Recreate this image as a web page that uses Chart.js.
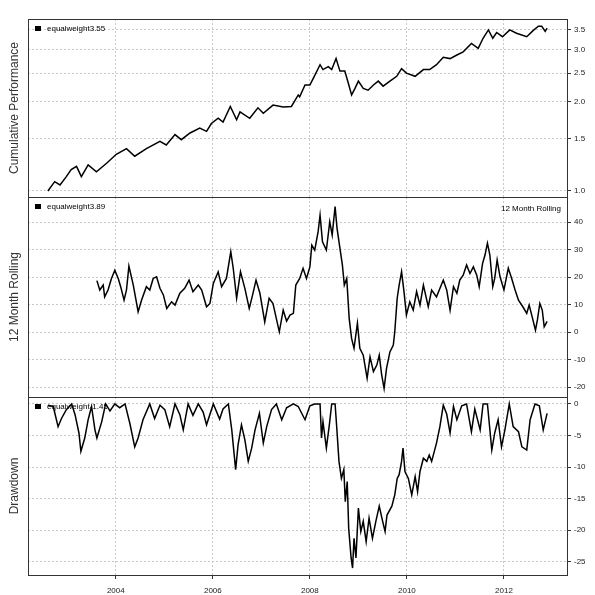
<!DOCTYPE html>
<html>
<head>
<meta charset="utf-8">
<script src="https://cdn.jsdelivr.net/npm/chart.js@4.4.1/dist/chart.umd.min.js"></script>
<style>
  html, body { margin: 0; padding: 0; background: #fff; }
  #wrap { position: relative; width: 595px; height: 595px; overflow: hidden; }
  canvas { position: absolute; left: 0; }
</style>
</head>
<body>
<div id="wrap">
  <canvas id="cum" width="595" height="201" style="top:0px"></canvas>
  <canvas id="roll" width="595" height="208" style="top:193px"></canvas>
  <canvas id="dd" width="595" height="202" style="top:393px"></canvas>
</div>
<script>
const FONT = "'Liberation Sans', Arial, sans-serif";

// x axis
const xMin = 2002.19;
const xMax = 2013.30;
const yearTicks = [2004, 2006, 2008, 2010, 2012];

// cumulative performance (log scale)
const cumDates = [2002.60, 2002.74, 2002.85, 2002.98, 2003.08, 2003.19, 2003.29, 2003.43, 2003.60, 2003.81,
  2004.01, 2004.22, 2004.39, 2004.63, 2004.91, 2005.04, 2005.22, 2005.35, 2005.53, 2005.73,
  2005.87, 2005.97, 2006.11, 2006.21, 2006.36, 2006.49, 2006.56, 2006.76, 2006.93, 2007.04,
  2007.24, 2007.45, 2007.62, 2007.76, 2007.79, 2007.90, 2008.00, 2008.07, 2008.21, 2008.27,
  2008.38, 2008.45, 2008.54, 2008.62, 2008.72, 2008.79, 2008.86, 2008.93, 2009.00, 2009.10,
  2009.20, 2009.31, 2009.41, 2009.51, 2009.65, 2009.79, 2009.89, 2009.99, 2010.17, 2010.34,
  2010.47, 2010.61, 2010.75, 2010.89, 2011.03, 2011.16, 2011.33, 2011.47, 2011.57, 2011.68,
  2011.77, 2011.85, 2011.97, 2012.12, 2012.26, 2012.47, 2012.60, 2012.71, 2012.78, 2012.85, 2012.89];
const cumValues = [1.00, 1.075, 1.048, 1.118, 1.18, 1.21, 1.118, 1.224, 1.16, 1.24,
  1.33, 1.39, 1.31, 1.39, 1.47, 1.43, 1.55, 1.49, 1.57, 1.63,
  1.59, 1.69, 1.76, 1.71, 1.93, 1.74, 1.85, 1.76, 1.91, 1.83,
  1.95, 1.92, 1.93, 2.11, 2.08, 2.28, 2.28, 2.40, 2.67, 2.57,
  2.63, 2.57, 2.80, 2.54, 2.54, 2.32, 2.11, 2.22, 2.35, 2.22,
  2.19, 2.28, 2.35, 2.26, 2.35, 2.44, 2.59, 2.50, 2.44, 2.57,
  2.57, 2.67, 2.83, 2.80, 2.88, 2.95, 3.15, 3.03, 3.28, 3.50,
  3.28, 3.43, 3.32, 3.50, 3.41, 3.32, 3.48, 3.60, 3.60, 3.46, 3.55];
const cumTicks = [1.0, 1.5, 2.0, 2.5, 3.0, 3.5];

// 12 month rolling return (%)
const rollDates = [2003.61, 2003.67, 2003.74, 2003.77, 2003.84, 2003.91, 2003.98, 2004.05, 2004.10, 2004.17,
  2004.22, 2004.27, 2004.36, 2004.46, 2004.53, 2004.63, 2004.70, 2004.77, 2004.84, 2004.91,
  2004.98, 2005.05, 2005.15, 2005.22, 2005.32, 2005.42, 2005.51, 2005.59, 2005.70, 2005.77,
  2005.87, 2005.94, 2006.01, 2006.11, 2006.18, 2006.28, 2006.37, 2006.42, 2006.49, 2006.57,
  2006.66, 2006.75, 2006.81, 2006.89, 2006.97, 2007.07, 2007.16, 2007.24, 2007.37, 2007.45,
  2007.52, 2007.59, 2007.66, 2007.71, 2007.79, 2007.86, 2007.93, 2008.00, 2008.04, 2008.10,
  2008.17, 2008.21, 2008.26, 2008.34, 2008.41, 2008.46, 2008.52, 2008.56, 2008.62, 2008.67,
  2008.71, 2008.76, 2008.81, 2008.86, 2008.91, 2008.98, 2009.03, 2009.10, 2009.18, 2009.24,
  2009.31, 2009.38, 2009.43, 2009.48, 2009.53, 2009.58, 2009.65, 2009.72, 2009.75, 2009.80,
  2009.84, 2009.89, 2009.94, 2009.99, 2010.06, 2010.13, 2010.20, 2010.27, 2010.34, 2010.44,
  2010.51, 2010.61, 2010.75, 2010.82, 2010.89, 2010.96, 2011.03, 2011.09, 2011.16, 2011.23,
  2011.30, 2011.37, 2011.44, 2011.49, 2011.56, 2011.61, 2011.66, 2011.71, 2011.77, 2011.81,
  2011.86, 2011.92, 2012.00, 2012.09, 2012.16, 2012.23, 2012.30, 2012.39, 2012.47, 2012.52,
  2012.59, 2012.65, 2012.69, 2012.74, 2012.79, 2012.83, 2012.89];
const rollValues = [18.7, 15.3, 17.1, 12.8, 15.3, 19.5, 22.5, 19.5, 16.5, 11.6,
  15.3, 24.0, 17.1, 7.4, 11.6, 16.5, 15.3, 19.5, 20.1, 15.9,
  13.5, 8.6, 11.0, 9.8, 14.1, 15.9, 18.9, 14.7, 17.1, 15.3,
  9.2, 10.4, 17.7, 21.9, 16.5, 19.5, 29.2, 23.2, 12.3, 21.9,
  15.9, 8.6, 12.8, 18.9, 14.1, 3.7, 12.3, 10.4, 0.1, 8.0,
  4.0, 6.2, 6.8, 17.1, 19.5, 23.2, 19.5, 23.7, 31.6, 29.8,
  36.5, 42.5, 32.8, 29.8, 40.1, 35.3, 45.6, 37.7, 30.4, 24.4,
  17.1, 19.5, 5.0, -2.3, -5.9, 3.2, -5.9, -8.4, -16.8, -9.0,
  -14.4, -12.0, -8.4, -15.6, -20.5, -13.2, -7.2, -4.7, 0.1, 12.3,
  17.1, 21.9, 14.7, 6.2, 11.0, 8.0, 14.7, 9.8, 17.1, 9.2,
  15.3, 12.8, 18.9, 15.3, 8.0, 16.5, 14.1, 18.9, 20.7, 24.4,
  21.3, 23.7, 20.7, 16.5, 25.0, 28.0, 32.3, 28.0, 16.5, 19.5,
  26.2, 20.1, 15.3, 23.2, 19.5, 15.3, 11.6, 9.2, 6.8, 9.8,
  5.0, 0.7, 4.4, 10.4, 8.0, 1.9, 3.9];
const rollTicks = [-20, -10, 0, 10, 20, 30, 40];

// drawdown (%)
const ddDates = [2002.60, 2002.71, 2002.81, 2002.88, 2002.98, 2003.09, 2003.16, 2003.24, 2003.28, 2003.36,
  2003.43, 2003.50, 2003.57, 2003.61, 2003.71, 2003.79, 2003.88, 2003.98, 2004.08, 2004.19,
  2004.29, 2004.39, 2004.46, 2004.56, 2004.70, 2004.80, 2004.91, 2005.01, 2005.11, 2005.22,
  2005.32, 2005.39, 2005.49, 2005.59, 2005.70, 2005.80, 2005.87, 2006.01, 2006.14, 2006.21,
  2006.32, 2006.39, 2006.47, 2006.52, 2006.59, 2006.66, 2006.73, 2006.80, 2006.87, 2006.96,
  2007.04, 2007.11, 2007.21, 2007.31, 2007.42, 2007.52, 2007.66, 2007.76, 2007.90, 2008.00,
  2008.10, 2008.21, 2008.24, 2008.27, 2008.34, 2008.40, 2008.45, 2008.52, 2008.55, 2008.60,
  2008.65, 2008.70, 2008.73, 2008.77, 2008.80, 2008.85, 2008.88, 2008.91, 2008.95, 2009.00,
  2009.05, 2009.10, 2009.16, 2009.22, 2009.29, 2009.36, 2009.43, 2009.50, 2009.55, 2009.59,
  2009.69, 2009.75, 2009.80, 2009.84, 2009.89, 2009.92, 2009.96, 2010.03, 2010.10, 2010.17,
  2010.22, 2010.27, 2010.34, 2010.41, 2010.46, 2010.51, 2010.61, 2010.68, 2010.75, 2010.82,
  2010.89, 2010.96, 2011.03, 2011.13, 2011.23, 2011.33, 2011.40, 2011.51, 2011.57, 2011.66,
  2011.75, 2011.81, 2011.88, 2011.95, 2012.02, 2012.11, 2012.19, 2012.30, 2012.37, 2012.47,
  2012.54, 2012.64, 2012.73, 2012.81, 2012.89];
const ddValues = [-0.2, -0.4, -3.6, -2.3, -0.9, 0, -1.7, -4.6, -7.5, -5.4,
  -2.5, -0.4, -4.1, -5.4, -2.8, 0, -1.1, 0, -0.6, 0,
  -3.1, -6.8, -5.4, -2.5, 0, -2.3, -0.2, -0.9, -3.6, 0,
  -1.7, -4.1, 0, -1.8, 0, -1.3, -3.3, 0, -2.4, -0.8,
  0, -4.1, -10.4, -6.5, -3.3, -5.7, -9.1, -7.0, -4.1, -1.5,
  -6.2, -3.6, -0.9, 0, -2.5, -0.6, 0, -0.4, -2.5, -0.3,
  0, 0, -5.4, -2.8, -7.0, -3.4, 0, 0, -3.3, -9.1,
  -11.8, -10.4, -15.5, -12.3, -19.7, -24.4, -26.0, -21.3, -24.4, -16.5,
  -20.2, -18.6, -21.8, -18.1, -21.3, -18.6, -16.2, -18.6, -20.2, -17.6,
  -16.2, -14.4, -11.8, -11.2, -9.1, -7.0, -10.7, -11.8, -14.4, -11.5,
  -13.9, -10.7, -8.6, -9.1, -8.1, -9.1, -6.2, -3.6, -0.2, -1.6,
  -4.6, -0.4, -2.5, -0.3, 0, -4.4, -0.8, -4.1, 0, 0,
  -7.3, -4.6, -2.5, -6.8, -4.1, 0, -3.6, -4.4, -6.8, -7.3,
  -2.5, 0, -0.3, -4.1, -1.5];
const ddTicks = [-25, -20, -15, -10, -5, 0];

const frameColor = '#333';
const gridColor = '#c8c8c8';

// draws the box, the left title and the little legend of one panel
const panelPlugin = {
    id: 'panel',
    beforeDatasetsDraw(chart, args, opts) {
        const { ctx, chartArea } = chart;
        ctx.save();
        ctx.font = '8px ' + FONT;
        ctx.textBaseline = 'middle';
        ctx.fillStyle = '#000';
        const ly = chartArea.top + opts.legendY;
        ctx.fillRect(chartArea.left + 7, ly - 3, 6, 5);
        ctx.textAlign = 'left';
        ctx.fillText(opts.legend, chartArea.left + 19, ly);
        if (opts.rightText) {
            ctx.textAlign = 'right';
            ctx.fillText(opts.rightText, chartArea.right - 6, ly + 2);
        }
        ctx.restore();
    },
    afterDraw(chart, args, opts) {
        const { ctx, chartArea } = chart;
        ctx.save();
        ctx.strokeStyle = frameColor;
        ctx.lineWidth = 1;
        ctx.strokeRect(Math.round(chartArea.left) + 0.5, Math.round(chartArea.top) + 0.5,
            Math.round(chartArea.right - chartArea.left), Math.round(chartArea.bottom - chartArea.top));

        ctx.translate(15, (chartArea.top + chartArea.bottom) / 2);
        ctx.rotate(-Math.PI / 2);
        ctx.font = '12px ' + FONT;
        ctx.fillStyle = '#333';
        ctx.textAlign = 'center';
        ctx.textBaseline = 'middle';
        ctx.fillText(opts.title, 0, 0);
        ctx.restore();
    }
};

function makePanel(id, cfg) {
    const data = cfg.dates.map((d, i) => ({ x: d, y: cfg.values[i] }));
    return new Chart(document.getElementById(id), {
        type: 'line',
        data: {
            datasets: [{
                data,
                borderColor: '#000',
                borderWidth: 1.5,
                pointRadius: 0,
                tension: 0
            }]
        },
        options: {
            responsive: false,
            animation: false,
            events: [],
            layout: { padding: cfg.padding },
            plugins: {
                legend: { display: false },
                tooltip: { enabled: false },
                panel: { title: cfg.title, legend: cfg.legend, rightText: cfg.rightText, legendY: cfg.legendY }
            },
            scales: {
                x: {
                    type: 'linear',
                    min: xMin,
                    max: xMax,
                    afterBuildTicks: s => { s.ticks = yearTicks.map(v => ({ value: v })); },
                    afterFit: s => { s.height = cfg.showX ? 20 : 0; s.paddingLeft = 0; s.paddingRight = 0; },
                    ticks: {
                        display: cfg.showX,
                        maxRotation: 0,
                        padding: 7,
                        color: '#222',
                        font: { size: 8, family: FONT },
                        callback: v => String(v)
                    },
                    grid: { color: gridColor, drawTicks: cfg.showX, tickLength: 4, tickColor: frameColor },
                    border: { display: false, dash: [2, 2] }
                },
                y: {
                    type: cfg.yType,
                    position: 'right',
                    min: cfg.yMin,
                    max: cfg.yMax,
                    afterBuildTicks: s => { s.ticks = cfg.yTicks.map(v => ({ value: v })); },
                    // keep the tick labels from pushing the plot box around
                    afterFit: s => { s.width = 28; s.paddingTop = 0; s.paddingBottom = 0; },
                    ticks: {
                        padding: 3,
                        color: '#222',
                        autoSkip: false,
                        font: { size: 8, family: FONT },
                        callback: cfg.fmt
                    },
                    grid: { color: gridColor, tickLength: 4, tickColor: frameColor },
                    border: { display: false, dash: [2, 2] }
                }
            }
        },
        plugins: [panelPlugin]
    });
}

makePanel('cum', {
    dates: cumDates, values: cumValues,
    title: 'Cumulative Performance', legend: 'equalweight3.55', legendY: 10,
    yType: 'logarithmic', yMin: 0.954, yMax: 3.81, yTicks: cumTicks,
    fmt: v => Number(v).toFixed(1),
    padding: { top: 19, bottom: 4, left: 28, right: 0 }, showX: false
});

makePanel('roll', {
    dates: rollDates, values: rollValues,
    title: '12 Month Rolling', legend: 'equalweight3.89', rightText: '12 Month Rolling', legendY: 10,
    yType: 'linear', yMin: -23.6, yMax: 49.1, yTicks: rollTicks,
    fmt: v => String(v),
    padding: { top: 4, bottom: 4, left: 28, right: 0 }, showX: false
});

makePanel('dd', {
    dates: ddDates, values: ddValues,
    title: 'Drawdown', legend: 'equalweight-1.45', legendY: 10,
    yType: 'linear', yMin: -27.1, yMax: 1.1, yTicks: ddTicks,
    fmt: v => String(v),
    padding: { top: 4, bottom: 0, left: 28, right: 0 }, showX: true
});
</script>
</body>
</html>
